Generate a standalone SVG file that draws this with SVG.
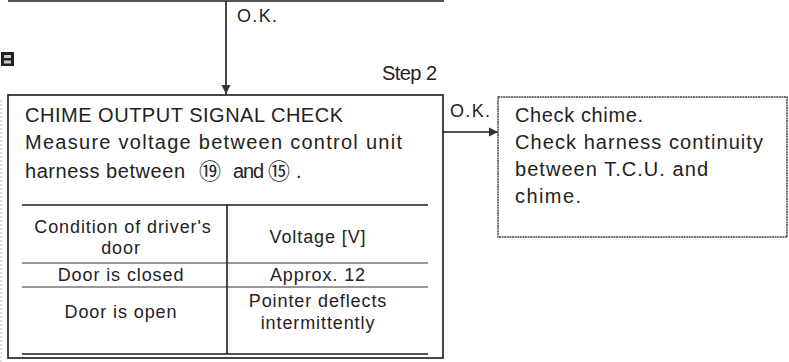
<svg xmlns="http://www.w3.org/2000/svg" width="789" height="362" viewBox="0 0 789 362">
<defs>
<style>
.t{font-family:"Liberation Sans",Arial,sans-serif;font-size:20px;fill:#222}
.k{font-family:"Liberation Sans",Arial,sans-serif;font-size:18px;fill:#222}
.s{font-family:"Liberation Sans",Arial,sans-serif;font-size:18px;fill:#222;letter-spacing:0.9px}
.c{font-family:"DejaVu Sans","Noto Sans CJK JP",sans-serif;font-size:22px;fill:#222}
.box{fill:#fff;stroke:#1a1a1a;stroke-width:1.6}
.box2{fill:#fff;stroke:#444;stroke-width:1.5;stroke-dasharray:2 0.6}
.ln{stroke:#1a1a1a;stroke-width:1.6;fill:none}
.thin{stroke:#333;stroke-width:1.2;fill:none}
</style>
<marker id="ah" markerWidth="10" markerHeight="12" refX="9" refY="5" orient="auto" markerUnits="userSpaceOnUse">
<path d="M0,0.5 L9,5 L0,9.5 Z" fill="#333"/>
</marker>
</defs>
<rect width="789" height="362" fill="#fff"/>
<line x1="1" y1="100" x2="1" y2="362" stroke="#bbb" stroke-width="1" stroke-dasharray="2 2"/>
<g id="prev-box">
<line class="ln" x1="8" y1="1" x2="444" y2="1"/>
</g>
<g id="connectors">
<line class="ln" x1="226" y1="1" x2="226" y2="94" marker-end="url(#ah)"/>
<line class="ln" x1="443" y1="132" x2="498" y2="132" marker-end="url(#ah)"/>
<text class="k" x="237" y="22" textLength="40">O.K.</text>
<text class="k" x="450" y="117" textLength="40">O.K.</text>
</g>
<g id="step-label">
<rect x="1" y="52" width="13" height="14" fill="#222"/>
<rect x="4" y="55" width="7" height="3" fill="#ccc"/>
<rect x="4" y="60.5" width="7" height="3" fill="#ccc"/>
<text class="t" x="382" y="80" textLength="55">Step 2</text>
</g>
<g id="chime-check">
<rect class="box" x="8" y="95" width="435" height="263"/>
<text class="t" x="25" y="122" textLength="318">CHIME OUTPUT SIGNAL CHECK</text>
<text class="t" x="25" y="149" textLength="377">Measure voltage between control unit</text>
<text class="t" x="25" y="178" textLength="160">harness between</text>
<text class="c" x="199" y="179">⑲</text>
<text class="t" x="233" y="178" textLength="31">and</text>
<text class="c" x="268" y="179">⑮</text>
<text class="t" x="296" y="178">.</text>
<line class="ln" x1="22" y1="205" x2="428" y2="205"/>
<line class="ln" x1="227" y1="205" x2="227" y2="354"/>
<line class="thin" x1="22" y1="263" x2="428" y2="263"/>
<line class="thin" x1="22" y1="287" x2="428" y2="287"/>
<line class="ln" x1="22" y1="354" x2="428" y2="354" stroke-width="2"/>
<text class="s" x="123" y="233" text-anchor="middle">Condition of driver's</text>
<text class="s" x="121" y="254" text-anchor="middle">door</text>
<text class="s" x="318" y="243" text-anchor="middle">Voltage [V]</text>
<text class="s" x="121" y="281" text-anchor="middle">Door is closed</text>
<text class="s" x="318" y="281" text-anchor="middle">Approx. 12</text>
<text class="s" x="121" y="318" text-anchor="middle">Door is open</text>
<text class="s" x="318" y="307" text-anchor="middle">Pointer deflects</text>
<text class="s" x="318" y="329" text-anchor="middle">intermittently</text>
</g>
<g id="check-chime">
<rect class="box2" x="498" y="97" width="289" height="140"/>
<text class="t" x="515" y="122" textLength="128">Check chime.</text>
<text class="t" x="515" y="149" textLength="248">Check harness continuity</text>
<text class="t" x="515" y="176" textLength="193">between T.C.U. and</text>
<text class="t" x="515" y="203" textLength="66">chime.</text>
</g>
</svg>
